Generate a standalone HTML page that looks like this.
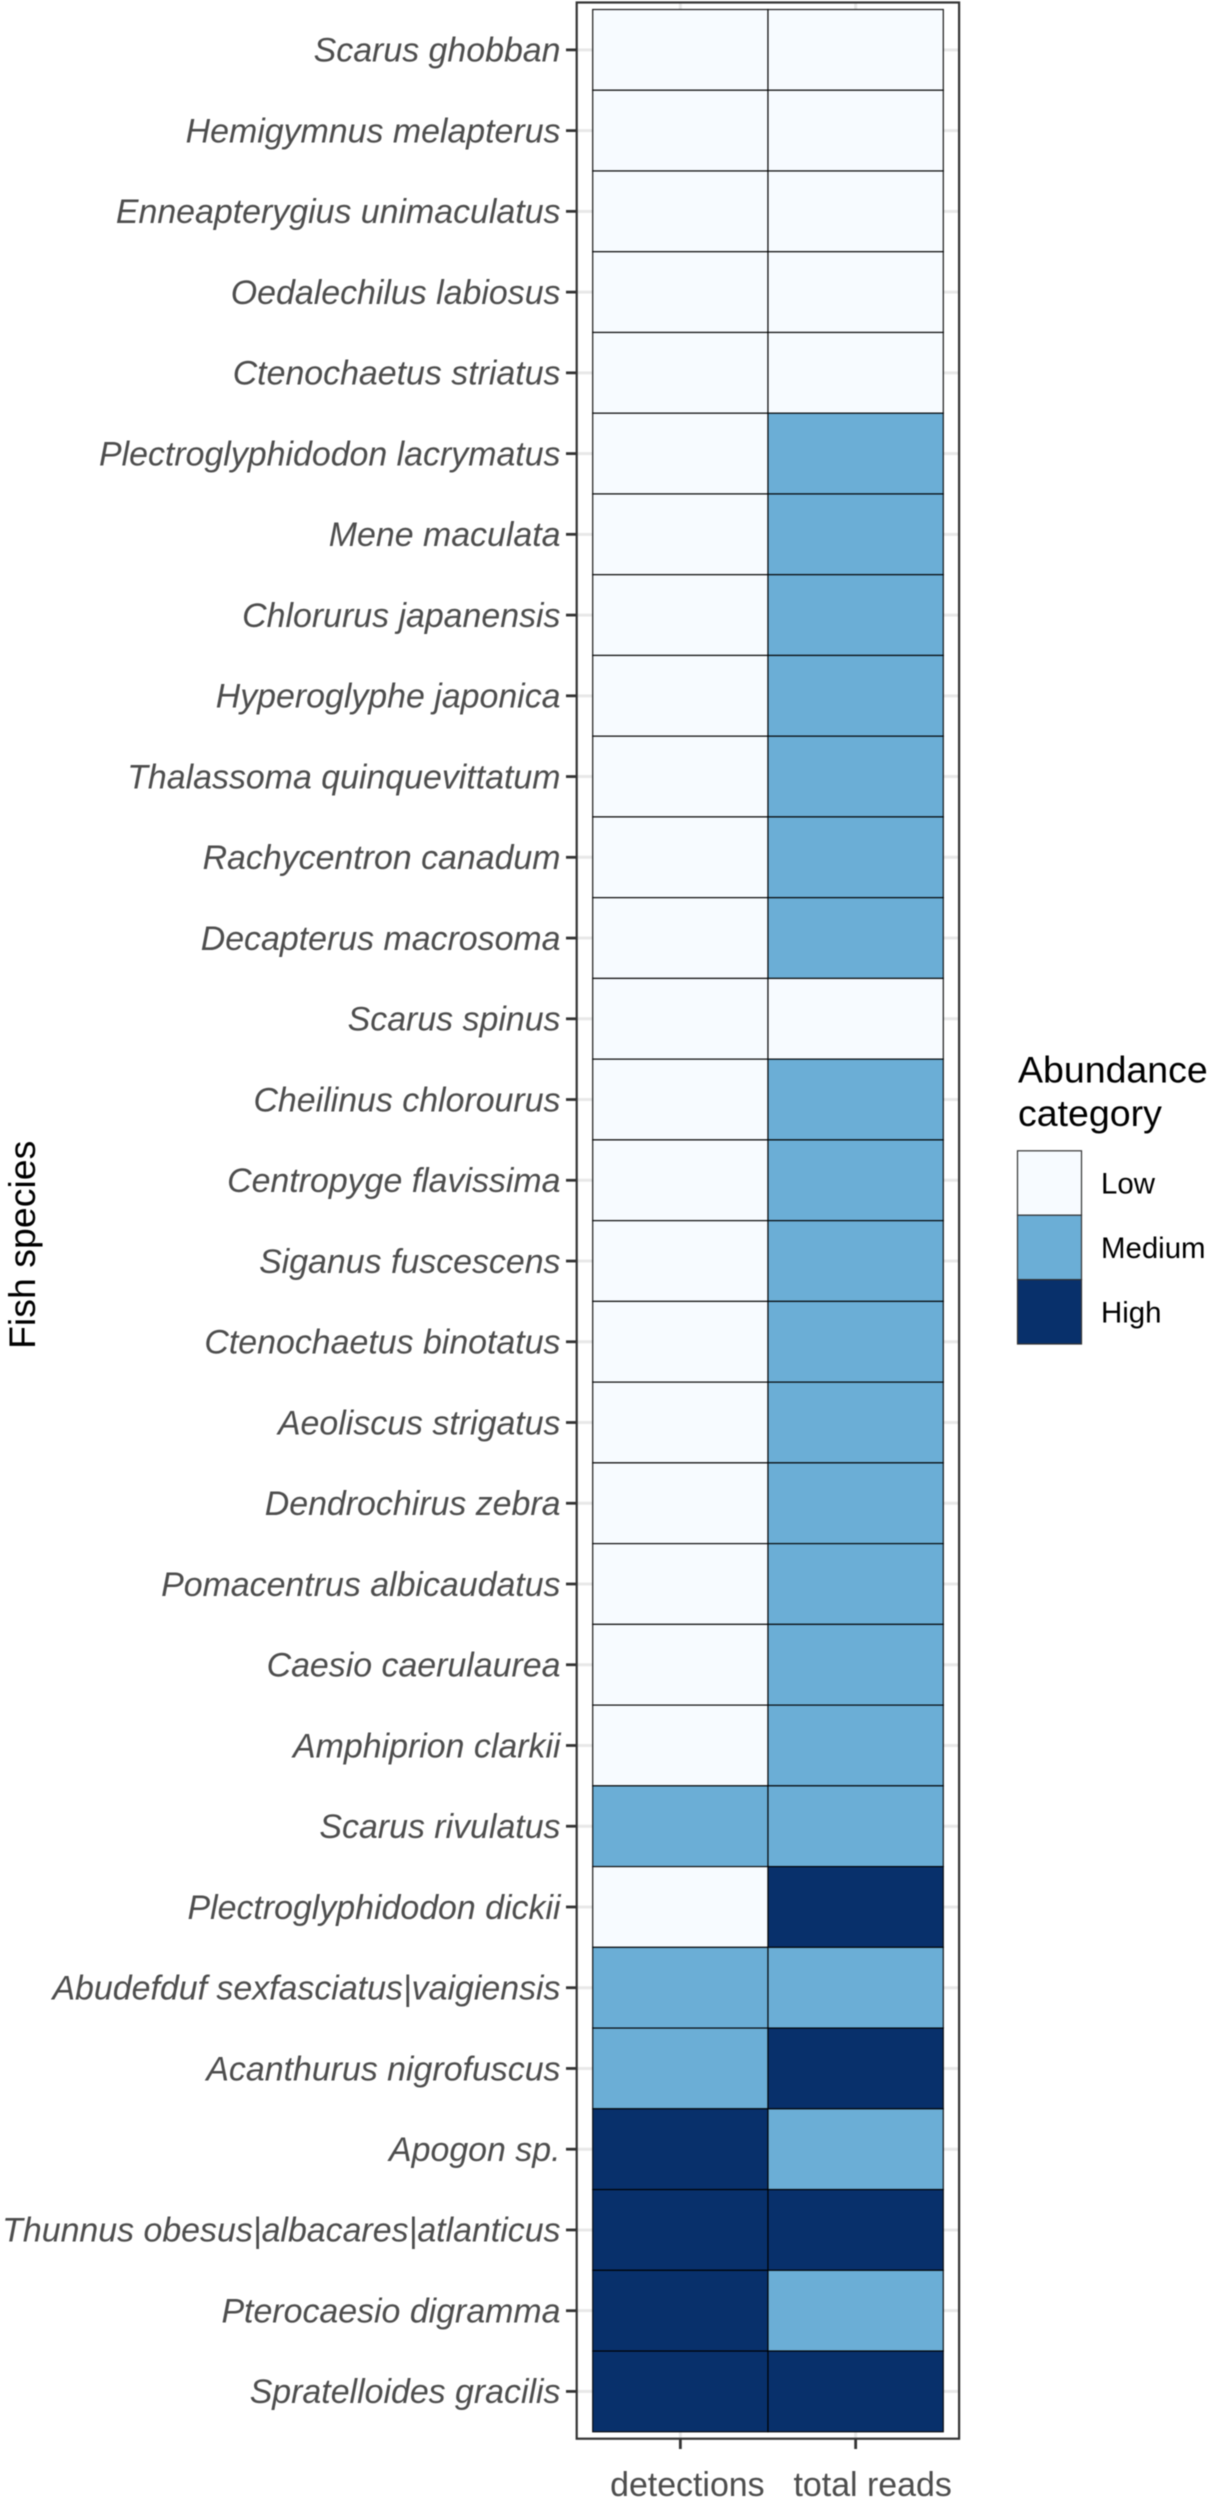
<!DOCTYPE html>
<html lang="en">
<head>
<meta charset="utf-8">
<title>Fish species abundance heatmap</title>
<style>
html,body{margin:0;padding:0;background:#fff;width:1209px;height:2500px;overflow:hidden}
#chart{display:block;filter:blur(0.45px)}
text{font-family:"Liberation Sans",Arial,sans-serif}
</style>
</head>
<body>
<svg id="chart" xmlns="http://www.w3.org/2000/svg" width="1209" height="2500" viewBox="0 0 1209 2500"></svg>
<script>
const species = ["Scarus ghobban","Hemigymnus melapterus","Enneapterygius unimaculatus","Oedalechilus labiosus","Ctenochaetus striatus","Plectroglyphidodon lacrymatus","Mene maculata","Chlorurus japanensis","Hyperoglyphe japonica","Thalassoma quinquevittatum","Rachycentron canadum","Decapterus macrosoma","Scarus spinus","Cheilinus chlorourus","Centropyge flavissima","Siganus fuscescens","Ctenochaetus binotatus","Aeoliscus strigatus","Dendrochirus zebra","Pomacentrus albicaudatus","Caesio caerulaurea","Amphiprion clarkii","Scarus rivulatus","Plectroglyphidodon dickii","Abudefduf sexfasciatus|vaigiensis","Acanthurus nigrofuscus","Apogon sp.","Thunnus obesus|albacares|atlanticus","Pterocaesio digramma","Spratelloides gracilis"];
const metrics = ["detections","total reads"];
const detections = ["Low","Low","Low","Low","Low","Low","Low","Low","Low","Low","Low","Low","Low","Low","Low","Low","Low","Low","Low","Low","Low","Low","Medium","Low","Medium","Medium","High","High","High","High"];
const totalReads = ["Low","Low","Low","Low","Low","Medium","Medium","Medium","Medium","Medium","Medium","Medium","Low","Medium","Medium","Medium","Medium","Medium","Medium","Medium","Medium","Medium","Medium","High","Medium","High","Medium","High","Medium","High"];
const categories = ["Low","Medium","High"];
const categoryColors = ["#F7FBFF","#6BAED6","#08306B"];

const NS = "http://www.w3.org/2000/svg";
const svg = document.getElementById("chart");
const series = [detections, totalReads];
const plot = {left:592.7, right:943.3, top:9.5, bottom:2431.8};
const bandW = (plot.right - plot.left) / metrics.length;
const bandH = (plot.bottom - plot.top) / species.length;
const xLeft = i => plot.left + i * bandW;
const xMid = i => xLeft(i) + bandW / 2;
const yTop = i => plot.top + i * bandH;
const yMid = i => yTop(i) + bandH / 2;
const colorOf = c => categoryColors[categories.indexOf(c)];

function make(tag, attrs, text) {
  const el = document.createElementNS(NS, tag);
  for (const k in attrs) el.setAttribute(k, attrs[k]);
  if (text !== undefined) el.textContent = text;
  svg.appendChild(el);
  return el;
}

/* gridlines */
species.forEach((s, i) => {
  const g = make("line", {x1:576, x2:959.7, y1:yMid(i), y2:yMid(i), stroke:"#E8E8E8", "stroke-width":3});
  
  
});
metrics.forEach((m, j) => {
  const g = make("line", {x1:xMid(j), x2:xMid(j), y1:2.3, y2:2438.8, stroke:"#E8E8E8", "stroke-width":3});
  
  
});

/* heatmap cells */
series.forEach((vals, j) => {
  vals.forEach((v, i) => {
    const r = make("rect", {x:xLeft(j), y:yTop(i), width:bandW, height:bandH, fill:colorOf(v), stroke:"#000", "stroke-width":1.2, "stroke-opacity":0.9});
    
    
  });
});

/* panel border */
const panel = make("rect", {x:576.7, y:2.5, width:382.4, height:2436.2, fill:"none", stroke:"#333", "stroke-width":2.2});



/* y axis */
species.forEach((s, i) => {
  const t = make("line", {x1:566, x2:576, y1:yMid(i), y2:yMid(i), stroke:"#333", "stroke-width":2.8});
  
  
  const l = make("text", {x:560.5, y:yMid(i) + 11.8, "text-anchor":"end", "font-size":33.9, "font-style":"italic", fill:"#4D4D4D"}, s);
  
  
});

/* x axis */
const xLabelOffset = [7, 17];
metrics.forEach((m, j) => {
  const t = make("line", {x1:xMid(j), x2:xMid(j), y1:2439, y2:2449, stroke:"#333", "stroke-width":2.8});
  
  
  const l = make("text", {x:xMid(j) + xLabelOffset[j], y:2496, "text-anchor":"middle", "font-size":33.9, fill:"#4D4D4D"}, m);
  
  
});

/* y axis title */
const yTitle = make("text", {transform:"translate(35,1349) rotate(-90)", "font-size":37.5, fill:"#000"}, "Fish species");



/* legend */
const title1 = make("text", {x:1018, y:1082.7, "font-size":37.5, fill:"#000"}, "Abundance");


const title2 = make("text", {x:1018, y:1126, "font-size":37.5, fill:"#000"}, "category");


categories.forEach((c, i) => {
  const top = 1150.8 + i * 64.4;
  const k = make("rect", {x:1017.5, y:top, width:64, height:64.4, fill:categoryColors[i], stroke:"#333", "stroke-width":1.2});
  
  
  const l = make("text", {x:1101, y:top + 42.8, "font-size":29.4, fill:"#000"}, c);
  
  
});
</script>
</body>
</html>
